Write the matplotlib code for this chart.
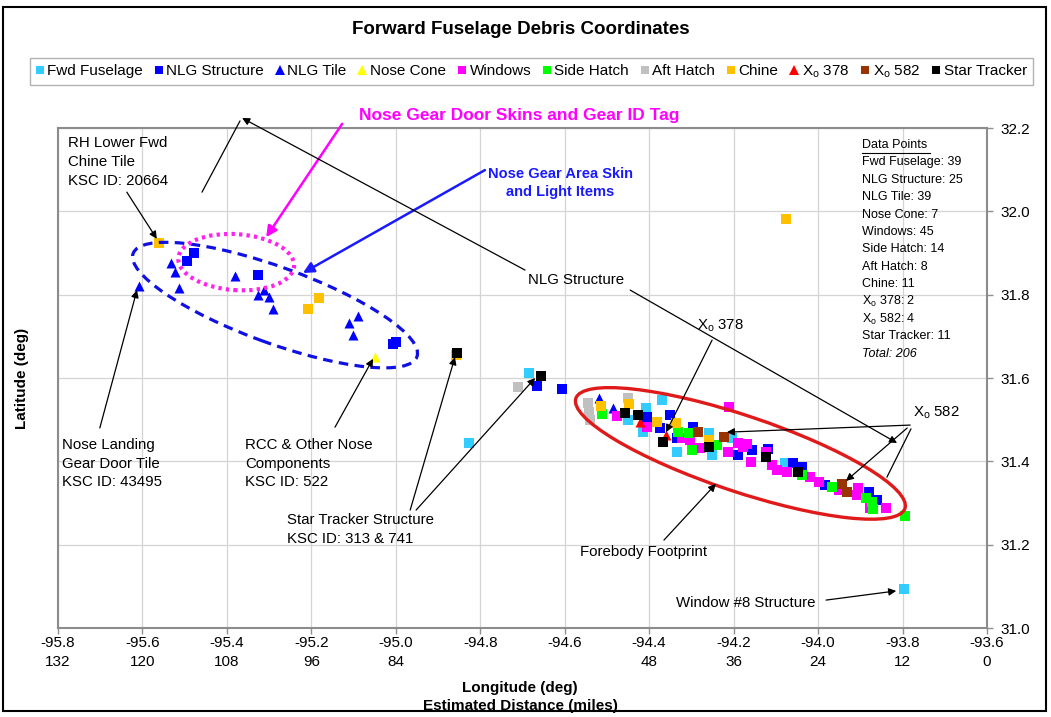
import matplotlib
matplotlib.use('Agg')
import matplotlib.pyplot as plt
from matplotlib.patches import Ellipse, Rectangle
from matplotlib.transforms import ScaledTranslation
from matplotlib.lines import Line2D

plt.rcParams['font.family'] = ['Liberation Sans', 'DejaVu Sans']
plt.rcParams['mathtext.fontset'] = 'custom'
plt.rcParams['mathtext.rm'] = 'Liberation Sans'
plt.rcParams['mathtext.it'] = 'Liberation Sans:italic'
plt.rcParams['mathtext.bf'] = 'Liberation Sans:bold'

# ---------------- data ----------------
lon_ticks = [-95.8, -95.6, -95.4, -95.2, -95.0, -94.8, -94.6, -94.4, -94.2, -94.0, -93.8, -93.6]
miles_labels = ['132', '120', '108', '96', '84', '', '', '48', '36', '24', '12', '0']
lat_ticks = [31.0, 31.2, 31.4, 31.6, 31.8, 32.0, 32.2]

fwd_lon = [-94.826, -94.684, -94.449, -94.407, -94.414, -94.370, -94.335, -94.258, -94.252, -94.204, -94.078, -93.796]
fwd_lat = [31.443, 31.613, 31.499, 31.527, 31.471, 31.547, 31.423, 31.467, 31.415, 31.455, 31.395, 31.094]

nlgs_lon = [-95.478, -95.494, -95.326, -95.000, -95.007, -94.665, -94.607, -94.404, -94.351, -94.374, -94.335,
            -94.297, -94.189, -94.157, -94.118, -94.059, -94.039, -93.984, -93.879, -93.861]
nlgs_lat = [31.899, 31.882, 31.847, 31.687, 31.682, 31.582, 31.573, 31.507, 31.511, 31.479, 31.455,
            31.483, 31.415, 31.427, 31.429, 31.395, 31.387, 31.343, 31.327, 31.307]

tile_lon = [-95.607, -95.532, -95.523, -95.513, -95.381, -95.326, -95.312, -95.300, -95.290, -95.110, -95.089,
            -95.101, -94.518, -94.485]
tile_lat = [31.822, 31.875, 31.855, 31.817, 31.845, 31.799, 31.811, 31.794, 31.766, 31.731, 31.749,
            31.703, 31.551, 31.527]

cone_lon = [-95.049]
cone_lat = [31.651]

win_lon = [-94.477, -94.404, -94.323, -94.303, -94.280, -94.211, -94.213, -94.189, -94.177, -94.169, -94.160,
           -94.123, -94.110, -94.098, -94.074, -94.019, -93.999, -93.950, -93.905, -93.908, -93.877, -93.839]
win_lat = [31.509, 31.483, 31.455, 31.451, 31.431, 31.531, 31.423, 31.443, 31.435, 31.442, 31.398,
           31.423, 31.391, 31.379, 31.375, 31.363, 31.350, 31.331, 31.335, 31.319, 31.287, 31.287]

side_lon = [-94.512, -94.331, -94.305, -94.299, -94.240, -94.039, -93.968, -93.886, -93.873, -93.869, -93.794]
side_lat = [31.514, 31.471, 31.467, 31.427, 31.439, 31.367, 31.339, 31.311, 31.303, 31.285, 31.269]

aft_lon = [-94.710, -94.544, -94.542, -94.540, -94.449]
aft_lat = [31.578, 31.539, 31.519, 31.499, 31.551]

chine_lon = [-95.560, -95.182, -95.207, -94.857, -94.076, -94.515, -94.448, -94.381, -94.336, -94.258]
chine_lat = [31.923, 31.791, 31.766, 31.656, 31.982, 31.533, 31.537, 31.495, 31.493, 31.451]

x378_lon = [-94.360, -94.422]
x378_lat = [31.463, 31.495]

x582_lon = [-94.285, -94.224, -93.944, -93.931]
x582_lat = [31.471, 31.459, 31.346, 31.327]

star_lon = [-94.856, -94.656, -94.457, -94.426, -94.367, -94.258, -94.123, -94.048]
star_lat = [31.661, 31.606, 31.515, 31.511, 31.446, 31.434, 31.410, 31.374]

count_names = ['Fwd Fuselage', 'NLG Structure', 'NLG Tile', 'Nose Cone', 'Windows', 'Side Hatch',
               'Aft Hatch', 'Chine', 'X$_{\\rm o}$ 378', 'X$_{\\rm o}$ 582', 'Star Tracker']
count_values = [39, 25, 39, 7, 45, 14, 8, 11, 2, 4, 11]
count_total = 206

# ---------------- figure ----------------
fig = plt.figure(figsize=(10.51, 7.17), dpi=100)
ax = fig.add_axes([58/1051, 1-628/717, 929/1051, 500/717])
ax.set_xlim(-95.8, -93.6)
ax.set_ylim(31.0, 32.2)

series = [
    ('Fwd Fuselage', fwd_lon, fwd_lat, 's', '#33ccff'),
    ('NLG Structure', nlgs_lon, nlgs_lat, 's', '#0000ff'),
    ('NLG Tile', tile_lon, tile_lat, '^', '#0000ff'),
    ('Nose Cone', cone_lon, cone_lat, '^', '#ffff00'),
    ('Windows', win_lon, win_lat, 's', '#ff00ff'),
    ('Side Hatch', side_lon, side_lat, 's', '#00ff00'),
    ('Aft Hatch', aft_lon, aft_lat, 's', '#c0c0c0'),
    ('Chine', chine_lon, chine_lat, 's', '#ffc000'),
    ('X$_{\\rm o}$ 378', x378_lon, x378_lat, '^', '#ff0000'),
    ('X$_{\\rm o}$ 582', x582_lon, x582_lat, 's', '#993300'),
    ('Star Tracker', star_lon, star_lat, 's', '#000000'),
]
handles = []
for i, (name, xs, ys, mk, col) in enumerate(series):
    ax.scatter(xs, ys, marker=mk, s=42 if mk == 's' else 52, c=col, linewidths=0, zorder=3 + i * 0.01)
    handles.append(Line2D([], [], marker=mk, color=col, linestyle='none', markersize=5.8 if mk == 's' else 6.8,
                          markeredgewidth=0, label=name))

# axes styling
ax.set_xticks(lon_ticks)
ax.set_xticklabels([f'{l:.1f}\n{m}' for l, m in zip(lon_ticks, miles_labels)], fontsize=11)
for t in ax.get_xticklabels():
    t.set_linespacing(1.45)
ax.set_yticks(lat_ticks)
ax.set_yticklabels([f'{v:.1f}' for v in lat_ticks], fontsize=11)
ax.yaxis.tick_right()
ax.tick_params(axis='both', length=4, color='#909090', width=1)
ax.tick_params(axis='x', pad=2)
ax.tick_params(axis='y', pad=6)
ax.grid(True, color='#d4d4d4', lw=0.9)
ax.set_axisbelow(True)
for sp in ax.spines.values():
    sp.set_color('#8c8c8c')
    sp.set_linewidth(1.5)

# ellipses (sizes in inches at 100 dpi)
def ellipse(cx, cy, w, h, ang, **kw):
    tr = fig.dpi_scale_trans + ScaledTranslation(cx, cy, ax.transData)
    e = Ellipse((0, 0), w, h, angle=ang, transform=tr, fill=False, clip_on=False, zorder=6, **kw)
    ax.add_patch(e)

ellipse(-94.184, 31.419, 3.47, 0.76, -18.5, ec='#e01a1a', lw=2.4)
ellipse(-95.286, 31.775, 3.02, 0.76, -20, ec='#1010e0', lw=2.3, linestyle=(0, (3, 2)))
ellipse(-95.378, 31.878, 1.16, 0.56, -4, ec='#ff22ee', lw=3, linestyle=(0, (0.8, 1.0)))

# annotations
def arrow(x0, y0, x1, y1, color='k', lw=0.9, head=True, ms=11):
    ax.annotate('', xy=(x1, y1), xytext=(x0, y0), annotation_clip=False, zorder=7,
                arrowprops=dict(arrowstyle='-|>' if head else '-', color=color, lw=lw,
                                shrinkA=0, shrinkB=0, mutation_scale=ms))

def label(x, y, s, **kw):
    kw.setdefault('fontsize', 10.8)
    kw.setdefault('ha', 'left')
    kw.setdefault('va', 'top')
    ax.text(x, y, s, clip_on=False, zorder=8, **kw)

label(-95.776, 32.180, 'RH Lower Fwd\nChine Tile\nKSC ID: 20664', linespacing=1.42)
arrow(-95.637, 32.046, -95.566, 31.934)

label(-94.708, 32.231, 'Nose Gear Door Skins and Gear ID Tag', ha='center', va='center',
      fontsize=12.5, fontweight='bold', color='#ff00ff')
arrow(-95.127, 32.210, -95.307, 31.938, color='#ff00ff', lw=1.8, ms=16)

label(-94.611, 32.068, 'Nose Gear Area Skin\nand Light Items', ha='center', va='center',
      fontsize=10.5, fontweight='bold', color='#1a1aff', linespacing=1.45)
arrow(-94.789, 32.099, -95.220, 31.852, color='#1a1aff', lw=1.8, ms=16)

label(-94.687, 31.835, 'NLG Structure', va='center')
arrow(-94.694, 31.859, -95.364, 32.224)
arrow(-95.459, 32.046, -95.369, 32.217, head=False)
arrow(-94.445, 31.811, -93.813, 31.444)

label(-94.287, 31.725, 'X$_{\\rm o}$ 378', va='center')
arrow(-94.251, 31.691, -94.360, 31.470)

label(-93.775, 31.516, 'X$_{\\rm o}$ 582', va='center')
arrow(-93.782, 31.487, -94.216, 31.470)
arrow(-93.789, 31.480, -93.934, 31.353)
arrow(-93.780, 31.478, -93.837, 31.362, head=False)

label(-94.564, 31.182, 'Forebody Footprint', va='center')
arrow(-94.365, 31.211, -94.242, 31.346)

label(-94.336, 31.060, 'Window #8 Structure', va='center')
arrow(-93.981, 31.067, -93.815, 31.089)

label(-95.258, 31.275, 'Star Tracker Structure\nKSC ID: 313 & 741', linespacing=1.42)
arrow(-94.966, 31.283, -94.860, 31.650)
arrow(-94.952, 31.283, -94.670, 31.600)

label(-95.357, 31.456, 'RCC & Other Nose\nComponents\nKSC ID: 522', linespacing=1.42)
arrow(-95.144, 31.482, -95.054, 31.646)

label(-95.791, 31.456, 'Nose Landing\nGear Door Tile\nKSC ID: 43495', linespacing=1.42)
arrow(-95.701, 31.480, -95.613, 31.811)

# data points box
bx = (862 - 58) / 929
by0 = (628 - 145) / 500
step = 17.4 / 500
ax.text(bx, by0, 'Data Points', transform=ax.transAxes, fontsize=9, va='center', ha='left')
ax.add_line(Line2D([bx, bx + 68 / 929], [by0 - 8 / 500, by0 - 8 / 500], transform=ax.transAxes,
                   color='k', lw=0.8, clip_on=False))
for i, (n, v) in enumerate(zip(count_names, count_values)):
    ax.text(bx, by0 - (i + 1) * step, f'{n}: {v}', transform=ax.transAxes, fontsize=9,
            va='center', ha='left')
ax.text(bx, by0 - 12 * step, f'Total: {count_total}', transform=ax.transAxes, fontsize=9,
        va='center', ha='left', style='italic')

# titles
fig.text(521 / 1051, 1 - 30 / 717, 'Forward Fuselage Debris Coordinates', ha='center', va='center',
         fontsize=13.5, fontweight='bold')
fig.text(22 / 1051, 1 - 378 / 717, 'Latitude (deg)', rotation=90, ha='center', va='center',
         fontsize=11, fontweight='bold')
fig.text(520 / 1051, 1 - 688 / 717, 'Longitude (deg)', ha='center', va='center', fontsize=11, fontweight='bold')
fig.text(520 / 1051, 1 - 706 / 717, 'Estimated Distance (miles)', ha='center', va='center',
         fontsize=11, fontweight='bold')

leg = fig.legend(handles=handles, loc='center', bbox_to_anchor=(531.5 / 1051, 1 - 71.5 / 717), ncol=11,
                 fontsize=11, handlelength=0.5, handletextpad=0.25, columnspacing=0.78, borderpad=0.35,
                 frameon=True, fancybox=False, edgecolor='#a0a0a0')
leg.get_frame().set_linewidth(1.0)

fig.patches.append(Rectangle((3 / 1051, 1 - 711 / 717), 1043 / 1051, 704 / 717, transform=fig.transFigure,
                             fill=False, ec='k', lw=1.5))

fig.savefig('out.png', dpi=100)
